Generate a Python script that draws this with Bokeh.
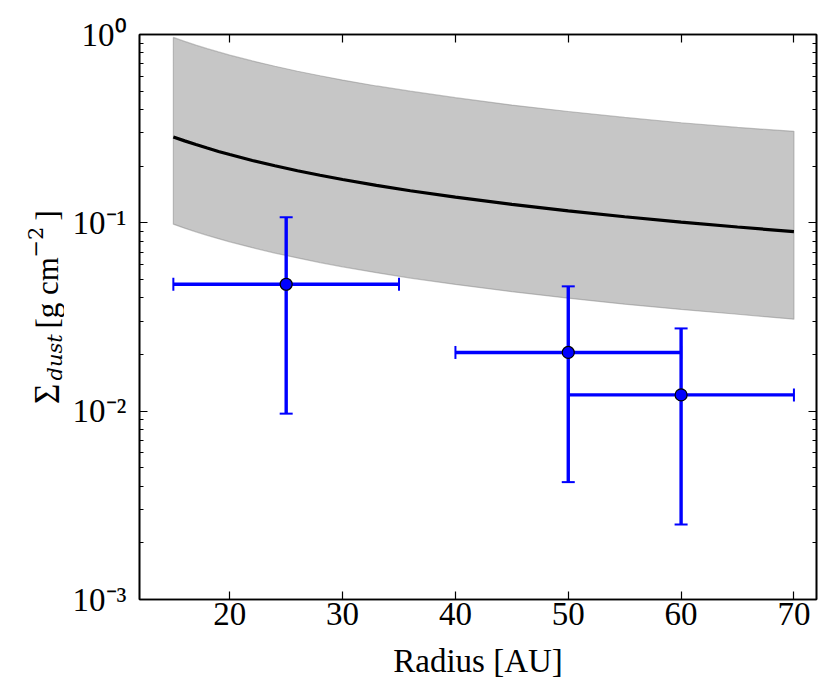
import numpy as np
from bokeh.plotting import figure
from bokeh.layouts import row
from bokeh.models import (Range1d, LinearAxis, Whisker, TeeHead, ColumnDataSource,
                          FixedTicker, CustomJSTickFormatter)
from bokeh.embed import file_html
from bokeh.resources import INLINE

# ---------------- data ----------------
radius = [15, 16, 17, 18, 19, 20, 22, 24, 26, 28, 30, 33, 36, 40, 45, 50, 55, 60, 65, 70]
model_sigma = [0.286, 0.2724, 0.2603, 0.2494, 0.2394, 0.2304, 0.2144, 0.2009, 0.1891, 0.1789,
               0.1698, 0.1581, 0.1481, 0.1368, 0.1252, 0.1157, 0.1077, 0.1008, 0.0950, 0.0898]
model_upper = [0.965, 0.919, 0.878, 0.841, 0.808, 0.777, 0.724, 0.678, 0.638, 0.604,
               0.573, 0.533, 0.500, 0.462, 0.422, 0.390, 0.363, 0.340, 0.321, 0.306]
model_lower = [0.0984, 0.0937, 0.0896, 0.0858, 0.0824, 0.0793, 0.0738, 0.0691, 0.0651, 0.0615,
               0.0584, 0.0544, 0.0509, 0.0471, 0.0431, 0.0398, 0.0370, 0.0347, 0.0327, 0.0308]

obs_r = [25, 50, 60]
obs_sigma = [0.0472, 0.0205, 0.0122]
obs_r_lo = [15, 40, 50]
obs_r_hi = [35, 60, 70]
obs_sigma_lo = [0.0097, 0.0042, 0.0025]
obs_sigma_hi = [0.107, 0.046, 0.0275]

x_ticks = [20, 30, 40, 50, 60, 70]
y_tick_values = [0.001, 0.01, 0.1, 1.0]
y_tick_labels = ["10\u207b\u00b3", "10\u207b\u00b2", "10\u207b\u00b9", "10\u2070"]
y_minor_ticks = [m * d for d in [0.001, 0.01, 0.1] for m in range(2, 10)]

# y-axis label pieces: Sigma_dust [g cm^-2]
ylabel_text = ["\u03a3", "dust", "[g cm", "\u22122", "]"]

# ---------------- layout ----------------
LW = 64                                  # width of the strip holding the y label
FX0, FY0, FW, FH = 139, 34, 677, 565     # frame in page px
BOTTOM = 90
TOTAL_H = FY0 + FH + BOTTOM
X0, X1, YLO, YHI = 12, 72, 1e-3, 1.0
FONT = "Liberation Serif"

p = figure(x_range=Range1d(X0, X1), y_range=Range1d(YLO, YHI), y_axis_type="log",
           frame_width=FW, frame_height=FH,
           min_border_left=FX0 - LW, min_border_top=FY0, min_border_right=6,
           min_border_bottom=BOTTOM,
           output_backend="svg", toolbar_location=None)
p.grid.visible = False
p.background_fill_color = "white"
p.border_fill_color = "white"
p.outline_line_color = "black"
p.outline_line_width = 1.6

yfmt = CustomJSTickFormatter(args=dict(vals=y_tick_values, labs=y_tick_labels), code="""
for (let j = 0; j < vals.length; j++) {
  if (Math.abs(Math.log10(tick) - Math.log10(vals[j])) < 1e-6) return labs[j];
}
return "";
""")
blank = CustomJSTickFormatter(code='return "";')

def style_axis(ax, labels=True):
    ax.axis_line_color = "black"
    ax.axis_line_width = 1.6
    ax.major_tick_in = 8
    ax.major_tick_out = 0
    ax.minor_tick_in = 4
    ax.minor_tick_out = 0
    ax.major_tick_line_color = "black"
    ax.minor_tick_line_color = "black"
    ax.major_tick_line_width = 1.2
    ax.minor_tick_line_width = 1
    if labels:
        ax.major_label_text_font = FONT
        ax.major_label_text_font_size = "33px"
        ax.major_label_text_color = "black"
    else:
        ax.formatter = blank
        ax.major_label_text_font_size = "1px"
        ax.major_label_standoff = 0

xa = p.xaxis[0]
xa.ticker = FixedTicker(ticks=x_ticks, minor_ticks=[])
style_axis(xa)
xa.major_label_standoff = 3
xa.axis_label = "Radius [AU]"
xa.axis_label_text_font = FONT
xa.axis_label_text_font_size = "33px"
xa.axis_label_text_font_style = "normal"
xa.axis_label_text_color = "black"
xa.axis_label_standoff = 15

ya = p.yaxis[0]
ya.ticker = FixedTicker(ticks=y_tick_values, minor_ticks=y_minor_ticks)
ya.formatter = yfmt
style_axis(ya)
ya.major_label_standoff = 13

top = LinearAxis(ticker=FixedTicker(ticks=x_ticks, minor_ticks=[]))
style_axis(top, labels=False)
p.add_layout(top, "above")
right = LinearAxis(ticker=FixedTicker(ticks=y_tick_values, minor_ticks=y_minor_ticks))
style_axis(right, labels=False)
p.add_layout(right, "right")

# ---------------- glyphs ----------------
band_x = radius + radius[::-1]
band_y = model_upper + model_lower[::-1]
p.patch(band_x, band_y, fill_color="gray", fill_alpha=0.45,
        line_color="gray", line_alpha=0.45, line_width=1.2, level="underlay")
p.line(radius, model_sigma, line_color="black", line_width=3.2)

src = ColumnDataSource(dict(r=obs_r, s=obs_sigma, r_lo=obs_r_lo, r_hi=obs_r_hi,
                            s_lo=obs_sigma_lo, s_hi=obs_sigma_hi))

def tee():
    return TeeHead(size=13, line_color="blue", line_width=2)

wy = Whisker(base="r", lower="s_lo", upper="s_hi", dimension="height", source=src,
             line_color="blue", line_width=3.4, upper_head=tee(), lower_head=tee(), level="underlay")
wx = Whisker(base="s", lower="r_lo", upper="r_hi", dimension="width", source=src,
             line_color="blue", line_width=3.4, upper_head=tee(), lower_head=tee(), level="underlay")
p.add_layout(wy)
p.add_layout(wx)
p.scatter("r", "s", source=src, size=12, fill_color="blue", line_color="black", line_width=1.2)

# ---------------- y-axis label strip ----------------
# Its frame is aligned with the main frame vertically, so its y range is given in page pixels
q = figure(x_range=Range1d(0, LW), y_range=Range1d(FY0 + FH, FY0),
           width=LW, height=TOTAL_H,
           min_border_left=0, min_border_right=0, min_border_top=FY0, min_border_bottom=BOTTOM,
           x_axis_location=None, y_axis_location=None,
           output_backend="svg", toolbar_location=None)
q.grid.visible = False
q.outline_line_color = None
q.background_fill_color = "white"
q.border_fill_color = "white"

lab_src = ColumnDataSource(dict(
    text=ylabel_text,
    x=[46.5, 54.0, 47.0, 35.0, 47.0],
    y=[403.5, 380.0, 328.0, 257.0, 220.0],
    size=["35px", "21px", "31px", "21px", "31px"],
    font=[FONT, "DejaVu Serif", FONT, "DejaVu Serif", FONT],
    style=["normal", "italic", "normal", "normal", "normal"],
))
q.text(x="x", y="y", text="text", source=lab_src, angle=np.pi / 2,
       text_align="left", text_baseline="alphabetic",
       text_font="font", text_font_size="size", text_font_style="style",
       text_color="black")

layout = row(q, p, spacing=0)
open("out.html", "w").write(file_html(layout, INLINE))
